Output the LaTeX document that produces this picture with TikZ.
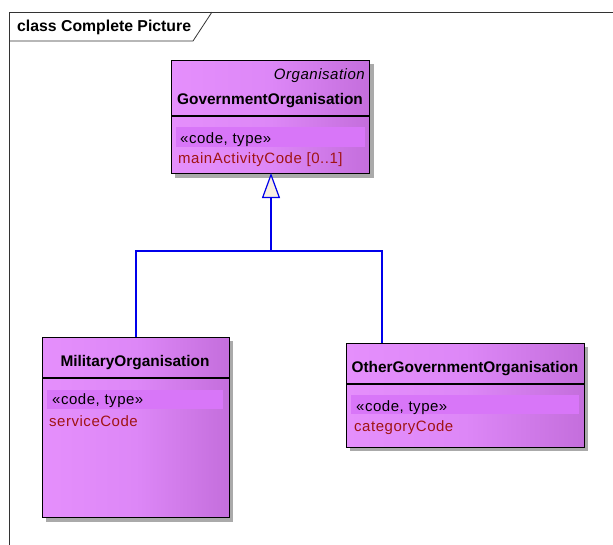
\documentclass[tikz,border=0pt]{standalone}
\usepackage{fontspec}
\setmainfont{Liberation Sans}
\newfontfamily\spacedfont[LetterSpace=3.5]{Liberation Sans}
\usetikzlibrary{arrows.meta,calc}

\definecolor{clsLeft}{RGB}{229,143,252}
\definecolor{clsMid}{RGB}{221,135,247}
\definecolor{clsRight}{RGB}{196,110,220}
\definecolor{bandFill}{RGB}{216,118,248}
\definecolor{attrRed}{RGB}{160,20,20}
\definecolor{genBlue}{RGB}{0,0,235}
\definecolor{tipFill}{RGB}{248,238,226}
\definecolor{shadowGray}{RGB}{170,170,170}

\tikzset{
  clsbox/.style={draw=black, line width=1.1pt, rectangle, inner sep=0pt,
    left color=clsLeft, right color=clsRight, middle color=clsMid},
  clsshadow/.style={fill=shadowGray, draw=none},
  band/.style={fill=bandFill, draw=none},
  divider/.style={draw=black, line width=1.1pt},
  titletext/.style={font=\fontsize{15.4}{17}\selectfont\bfseries, inner sep=0pt},
  ital/.style={font=\fontsize{15}{16}\spacedfont\itshape, inner sep=0pt},
  stereo/.style={font=\fontsize{15}{16}\spacedfont, inner sep=0pt, anchor=west},
  attr/.style={font=\fontsize{15}{16}\spacedfont, text=attrRed, inner sep=0pt, anchor=west},
  genline/.style={draw=genBlue, line width=1.2pt},
  gentip/.style={genline, -{Triangle[length=25pt,width=18pt,fill=tipFill]}},
  framestyle/.style={draw=black!80, line width=0.8pt},
}

\begin{document}
\begin{tikzpicture}[x=1pt, y=-1pt]
  \useasboundingbox (0,0) rectangle (613,544);
  \fill[white] (0,0) rectangle (613,544);

  % diagram frame and its name tab
  \draw[framestyle] (9,545) -- (9,12) -- (614,12);
  \draw[framestyle] (9,41) -- (193,41) -- (212,12);
  \node[titletext, font=\fontsize{15.8}{17}\selectfont\bfseries, anchor=west] (frameTitle) at (17,27) {class Complete Picture};

  % GovernmentOrganisation
  \fill[clsshadow] (175,64) rectangle (374,178);
  \node[clsbox, minimum width=198pt, minimum height=113pt, anchor=north west] (gov) at (171,60) {};
  \draw[divider] (171,116) -- (369,116);
  \fill[band] (176,127) rectangle (365,147);
  \node[ital, anchor=east] (govParent) at (365,75.5) {Organisation};
  \node[titletext] (govName) at (270,100.5) {GovernmentOrganisation};
  \node[stereo] (govStereo) at (180,140) {«code, type»};
  \node[attr] (govAttr) at (178,159.5) {mainActivityCode [0..1]};

  % MilitaryOrganisation
  \fill[clsshadow] (46,341) rectangle (233,522);
  \node[clsbox, minimum width=187pt, minimum height=180pt, anchor=north west] (mil) at (42,337) {};
  \draw[divider] (42,378) -- (229,378);
  \fill[band] (47,390) rectangle (223,409);
  \node[titletext] (milName) at (135,362.5) {MilitaryOrganisation};
  \node[stereo] (milStereo) at (52,401) {«code, type»};
  \node[attr] (milAttr) at (49,421) {serviceCode};

  % OtherGovernmentOrganisation
  \fill[clsshadow] (350,347) rectangle (588,451);
  \node[clsbox, minimum width=238pt, minimum height=104pt, anchor=north west] (oth) at (346,343) {};
  \draw[divider] (346,384) -- (584,384);
  \fill[band] (351,395) rectangle (579,414);
  \node[titletext] (othName) at (465,368.5) {OtherGovernmentOrganisation};
  \node[stereo] (othStereo) at (356,408) {«code, type»};
  \node[attr] (othAttr) at (354,428) {categoryCode};

  % generalisation tree
  \coordinate (apex) at (271,173);
  \coordinate (busJoin) at (271,251);
  \coordinate (othTop) at (382,343);
  \draw[genline] (mil.north) |- (busJoin);
  \draw[genline] (othTop) |- (busJoin);
  \draw[gentip] (busJoin) -- (apex);
\end{tikzpicture}
\end{document}
